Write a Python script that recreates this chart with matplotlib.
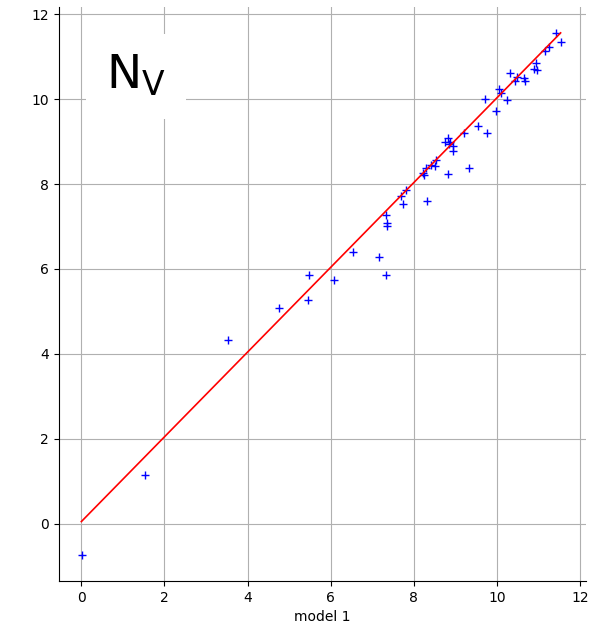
import numpy as np
import matplotlib
matplotlib.use("Agg")
import matplotlib.pyplot as plt

# значения
model1 = [0.02, 1.53, 3.52, 4.75, 5.45, 5.47, 6.07, 6.53, 7.17, 7.33,
          7.34, 7.36, 7.35, 7.68, 7.75, 7.80, 8.32, 8.21, 8.25, 8.30,
          8.40, 8.50, 8.53, 8.82, 9.32, 8.74, 8.82, 8.87, 8.93, 8.95,
          8.85, 9.21, 9.54, 9.75, 9.97, 9.70, 10.05, 10.09, 10.23, 10.31,
          10.43, 10.49, 10.64, 10.67, 10.88, 10.93, 10.95, 11.15, 11.26, 11.41,
          11.53]
model2 = [-0.74, 1.15, 4.32, 5.09, 5.26, 5.86, 5.75, 6.41, 6.27, 5.86,
          7.27, 7.08, 7.01, 7.71, 7.53, 7.85, 7.60, 8.27, 8.21, 8.37,
          8.46, 8.43, 8.56, 8.23, 8.37, 9.00, 9.09, 8.98, 8.90, 8.78,
          8.94, 9.20, 9.36, 9.20, 9.73, 10.00, 10.24, 10.14, 9.98, 10.62,
          10.43, 10.53, 10.49, 10.43, 10.72, 10.84, 10.68, 11.14, 11.22, 11.55,
          11.34]
line_x = [0.0, 11.53]
line_y = [0.05, 11.56]
label = r"N$_\mathrm{V}$"

fig = plt.figure(figsize=(6.01, 6.35), dpi=100)
ax = fig.add_axes([0.098, 0.085, 0.877, 0.904])

ax.plot(model1, model2, "b+")
ax.plot(line_x, line_y, "r-", lw=1.2)

ax.set_xlim(-0.54, 12.14)
ax.set_ylim(-1.35, 12.17)
ax.grid(True)
ax.set_axisbelow(True)
ax.spines["top"].set_visible(False)
ax.spines["right"].set_visible(False)
ax.set_xlabel("model 1")
ax.set_xticks(np.arange(0, 13, 2))
ax.set_yticks(np.arange(0, 13, 2))

ax.text(0.6, 10.24, label, fontsize=34, ha="left", va="baseline",
        bbox=dict(boxstyle="square,pad=0.42", facecolor="white", edgecolor="none"))

fig.savefig("out.png")
